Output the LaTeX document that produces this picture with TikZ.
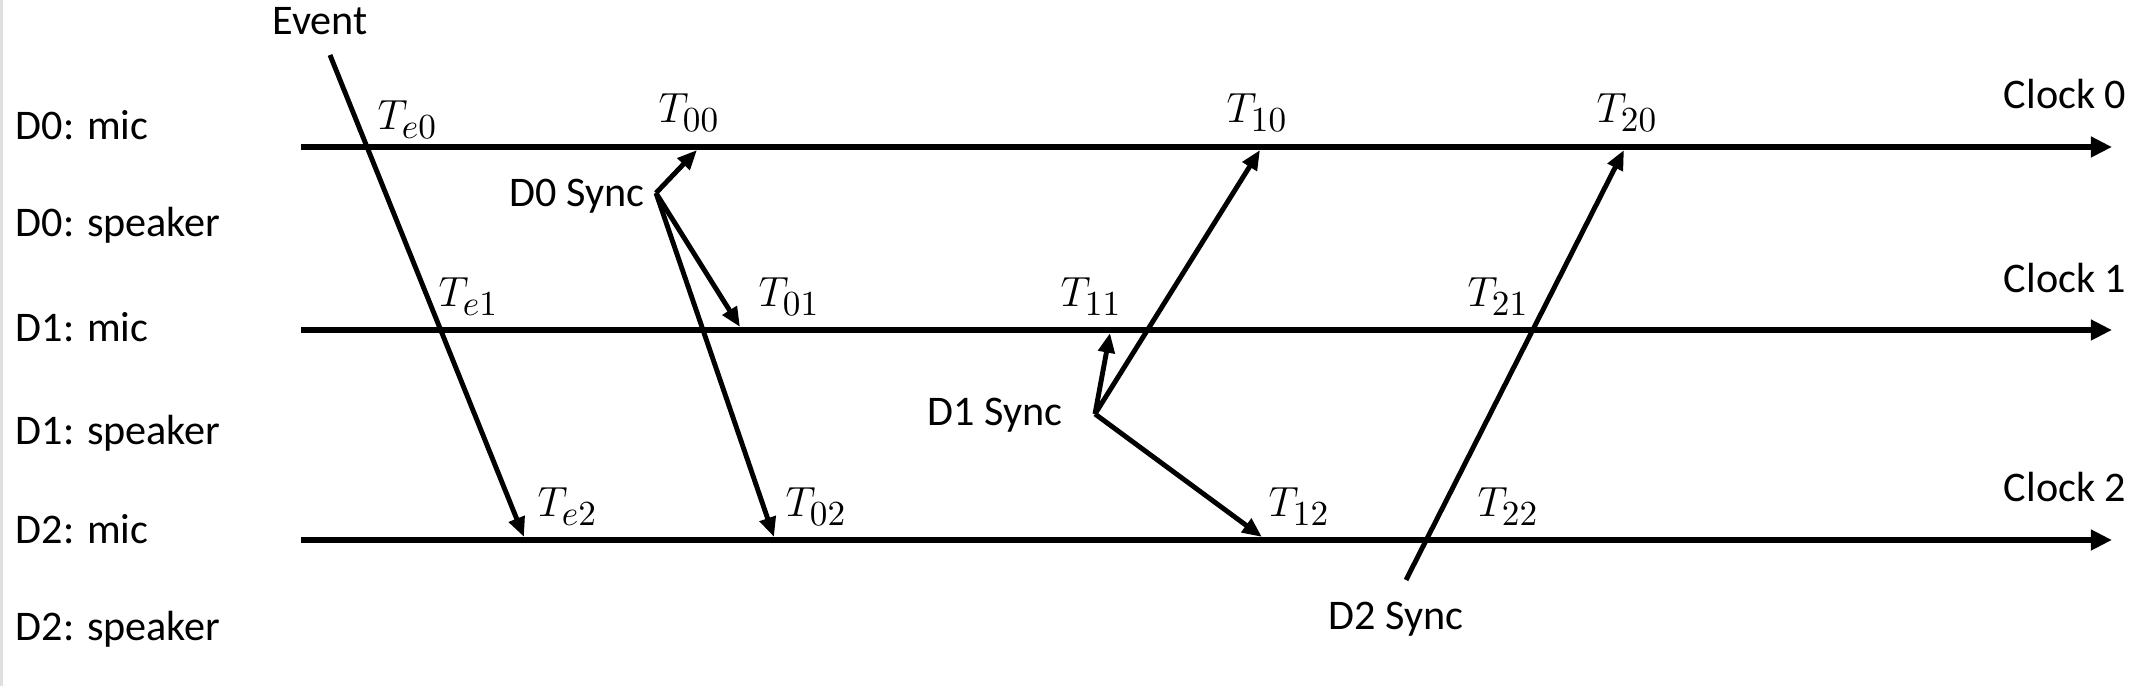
\documentclass[tikz,border=0pt]{standalone}
\usepackage{fontspec}
\setmainfont{Carlito}
\DeclareMathSizes{12}{12.4}{9.6}{7}
\usetikzlibrary{arrows.meta}

\begin{document}
\begin{tikzpicture}[x=0.01cm, y=-0.01cm, font=\fontsize{12}{14}\selectfont,
    clock/.style={line width=1.9pt, -{Triangle[length=6pt, width=5.6pt]}},
    msg/.style={line width=1.4pt, -{Triangle[length=5.6pt, width=4.6pt]}},
    lbl/.style={inner sep=0pt, anchor=base west}]
  \useasboundingbox (0,0) rectangle (2133,686);
  \fill[black!12] (0,0) rectangle (3,686);

  \foreach \name/\y [count=\i] in {D0: mic/140, D0: speaker/237, D1: mic/342, D1: speaker/445, D2: mic/544, D2: speaker/641}
    \node[lbl] (row\i) at (15,\y) {\name};

  % clock lines
  \coordinate (c0a) at (301,147); \coordinate (c0b) at (2112,147);
  \coordinate (c1a) at (301,330); \coordinate (c1b) at (2112,330);
  \coordinate (c2a) at (301,540); \coordinate (c2b) at (2112,540);
  \draw[clock] (c0a) -- (c0b);
  \draw[clock] (c1a) -- (c1b);
  \draw[clock] (c2a) -- (c2b);
  \node[lbl, anchor=base east] (clk0) at (2127,109) {Clock 0};
  \node[lbl, anchor=base east] (clk1) at (2127,293) {Clock 1};
  \node[lbl, anchor=base east] (clk2) at (2127,502) {Clock 2};

  % event
  \node[lbl] (event) at (272,35) {Event};
  \coordinate (ev) at (330,55);
  \coordinate (e2) at (524,537);
  \draw[msg] (ev) -- (e2);
  \node[lbl] (te0) at (377,130) {$T_{e0}$};
  \node[lbl] (te1) at (438,307) {$T_{e1}$};
  \node[lbl] (te2) at (537,517) {$T_{e2}$};

  % D0 sync
  \coordinate (s0) at (656,193);
  \node[lbl, anchor=base east] (sync0) at (645,207) {D0 Sync};
  \coordinate (p00) at (697,150); \coordinate (p01) at (740,327); \coordinate (p02) at (774,537);
  \draw[msg] (s0) -- (p00);
  \draw[msg] (s0) -- (p01);
  \draw[msg] (s0) -- (p02);
  \node[lbl] (t00) at (658,123) {$T_{00}$};
  \node[lbl] (t01) at (758,307) {$T_{01}$};
  \node[lbl] (t02) at (785,517) {$T_{02}$};

  % D1 sync
  \coordinate (s1) at (1095,414);
  \node[lbl, anchor=base east] (sync1) at (1063,426) {D1 Sync};
  \coordinate (p10) at (1260,150); \coordinate (p11) at (1110,333); \coordinate (p12) at (1262,537);
  \draw[msg] (s1) -- (p10);
  \draw[msg] (s1) -- (p11);
  \draw[msg] (s1) -- (p12);
  \node[lbl] (t10) at (1226,123) {$T_{10}$};
  \node[lbl] (t11) at (1060,307) {$T_{11}$};
  \node[lbl] (t12) at (1268,517) {$T_{12}$};

  % D2 sync
  \coordinate (s2) at (1406,580);
  \node[lbl] (sync2) at (1328,630) {D2 Sync};
  \coordinate (p20) at (1624,150);
  \draw[msg] (s2) -- (p20);
  \node[lbl] (t20) at (1596,123) {$T_{20}$};
  \node[lbl] (t21) at (1467,307) {$T_{21}$};
  \node[lbl] (t22) at (1477,517) {$T_{22}$};
\end{tikzpicture}
\end{document}
